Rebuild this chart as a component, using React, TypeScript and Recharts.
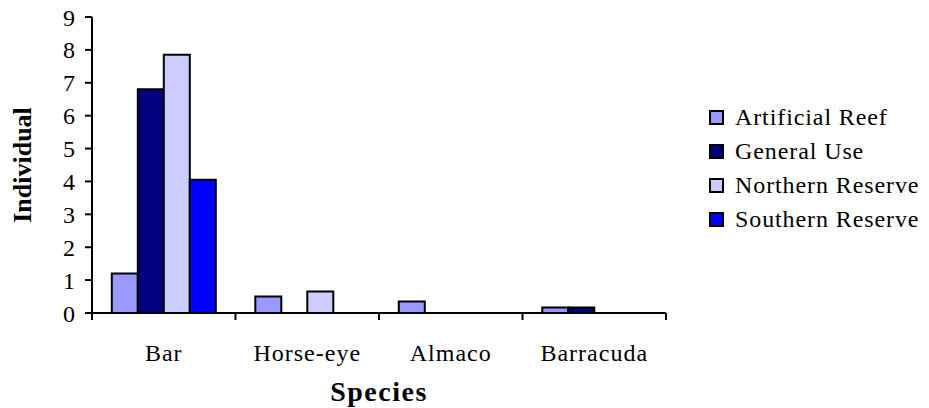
import React from 'react';
import { BarChart, Bar, XAxis, YAxis, Legend } from 'recharts';

const species = ['Bar', 'Horse-eye', 'Almaco', 'Barracuda'];
const artificialReef = [1.2, 0.5, 0.35, 0.17];
const generalUse = [6.8, 0, 0, 0.17];
const northernReserve = [7.85, 0.65, 0, 0];
const southernReserve = [4.05, 0, 0, 0];
const yTicks = [0, 1, 2, 3, 4, 5, 6, 7, 8, 9];

const seriesNames = ['Artificial Reef', 'General Use', 'Northern Reserve', 'Southern Reserve'];
const seriesKeys = ['ar', 'gu', 'nr', 'sr'];
const seriesColors = ['#9999FF', '#000080', '#CCCCFF', '#0000FF'];

const data = species.map((s, i) => ({
  name: s,
  ar: artificialReef[i],
  gu: generalUse[i],
  nr: northernReserve[i],
  sr: southernReserve[i],
}));

const W = 929;
const H = 408;
const MARGIN = { top: 17, right: 263, left: 0, bottom: 0 };
const Y_W = 92;
const X_H = 95;
const PLOT_W = W - MARGIN.left - MARGIN.right - Y_W;
const BAND = PLOT_W / species.length;
const FONT = 'Liberation Serif';

const CatTick = (props: any) => {
  const { x, y, payload, index } = props;
  const left = x - BAND / 2;
  const right = x + BAND / 2;
  return (
    <g>
      <line x1={left} y1={y} x2={left} y2={y + 7} stroke="#000" strokeWidth={2} />
      {index === species.length - 1 && (
        <line x1={right} y1={y} x2={right} y2={y + 7} stroke="#000" strokeWidth={2} />
      )}
      <text x={x} y={y + 48} textAnchor="middle" fill="#000" style={{ fontFamily: FONT, fontSize: 24, letterSpacing: 1 }}>
        {payload.value}
      </text>
    </g>
  );
};

const LegendContent = () => (
  <div style={{ fontFamily: FONT, fontSize: 24, letterSpacing: 0.9, color: '#000' }}>
    {seriesNames.map((n, i) => (
      <div key={n} style={{ display: 'flex', alignItems: 'center', height: 34, whiteSpace: 'nowrap' }}>
        <div style={{ width: 11, height: 11, background: seriesColors[i], border: '2px solid #000', marginRight: 11 }} />
        <span>{n}</span>
      </div>
    ))}
  </div>
);

export default function App() {
  return (
    <div style={{ position: 'absolute', left: 0, top: 0, width: W, height: H, background: '#fff', fontFamily: FONT }}>
      <BarChart width={W} height={H} data={data} margin={MARGIN} barGap={0} barCategoryGap="13.8%" style={{ fontFamily: FONT }}>
        <XAxis
          dataKey="name"
          height={X_H}
          tickLine={false}
          tickSize={0}
          tickMargin={0}
          axisLine={{ stroke: '#000', strokeWidth: 2 }}
          tick={<CatTick />}
          interval={0}
          label={(p: any) => {
            const vb = p.viewBox;
            return (
              <text x={vb.x + vb.width / 2} y={vb.y + 88} textAnchor="middle" fill="#000" style={{ fontFamily: FONT, fontSize: 28, fontWeight: 'bold', letterSpacing: 1.5 }}>
                Species
              </text>
            );
          }}
        />
        <YAxis
          width={Y_W}
          domain={[0, 9]}
          ticks={yTicks}
          interval={0}
          tickSize={7}
          tickMargin={10}
          axisLine={{ stroke: '#000', strokeWidth: 2 }}
          tickLine={{ stroke: '#000', strokeWidth: 2 }}
          tick={{ fill: '#000', fontSize: 24, fontFamily: FONT }}
          label={(p: any) => {
            const vb = p.viewBox;
            const cx = vb.x + 22;
            const cy = vb.y + vb.height / 2;
            return (
              <text x={cx} y={cy} transform={`rotate(-90 ${cx} ${cy})`} textAnchor="middle" dominantBaseline="central" fill="#000" style={{ fontFamily: FONT, fontSize: 26, fontWeight: 'bold' }}>
                Individual
              </text>
            );
          }}
        />
        <Legend
          layout="vertical"
          align="center"
          verticalAlign="middle"
          content={<LegendContent />}
          wrapperStyle={{ left: 709, top: 100, width: 220 }}
        />
        {seriesKeys.map((k, i) => (
          <Bar key={k} dataKey={k} name={seriesNames[i]} fill={seriesColors[i]} stroke="#000" strokeWidth={2} isAnimationActive={false} />
        ))}
      </BarChart>
    </div>
  );
}
